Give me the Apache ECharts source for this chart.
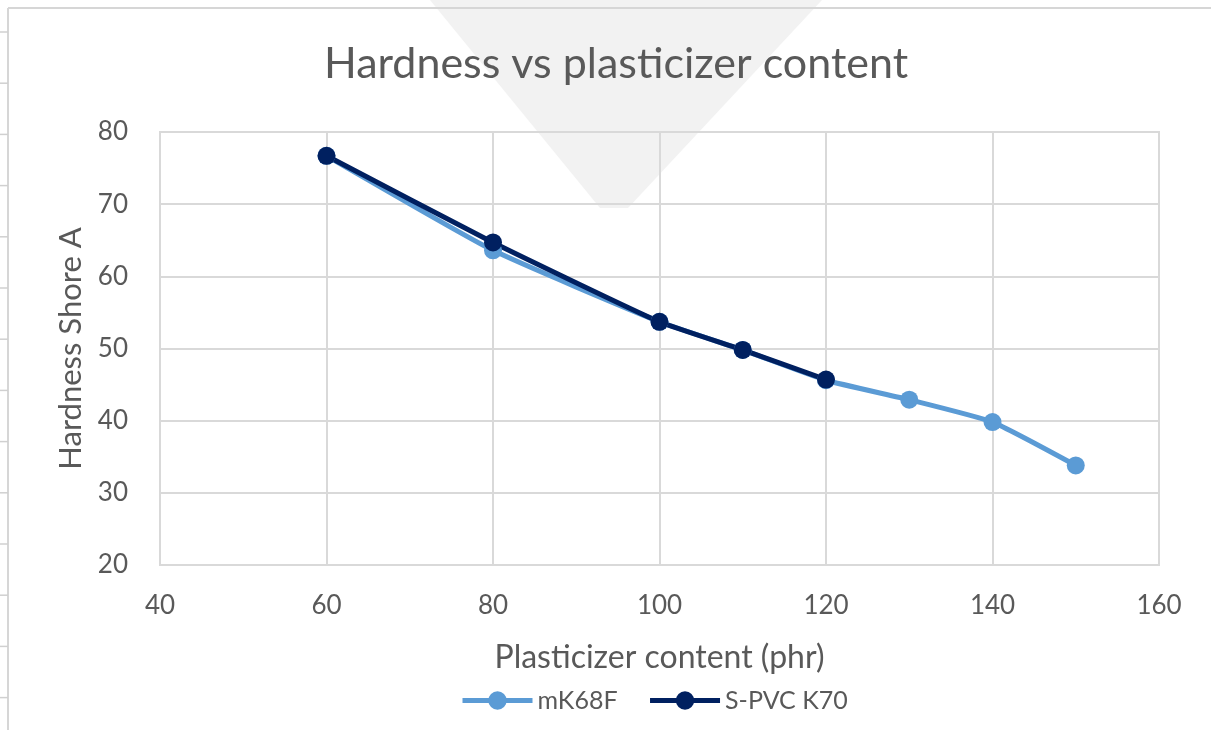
<!DOCTYPE html>
<html>
<head>
<meta charset="utf-8">
<script src="https://cdn.jsdelivr.net/npm/echarts@6/dist/echarts.min.js"></script>
<style>
  html, body { margin: 0; padding: 0; background: #fff; }
  #chart { width: 1211px; height: 730px; }
</style>
</head>
<body>
<div id="chart"></div>
<script>
// plasticizer content (phr)
const phrMK68F = [60, 80, 100, 110, 120, 130, 140, 150];
const hardMK68F = [76.7, 63.6, 53.7, 49.8, 45.6, 42.9, 39.8, 33.8];
const phrK70 = [60, 80, 100, 110, 120];
const hardK70 = [76.7, 64.7, 53.7, 49.8, 45.7];

const textColor = '#595959';
const gridColor = '#d9d9d9';
const fontFamily = 'Lato, "Open Sans", sans-serif';

const chartDom = document.getElementById('chart');
const myChart = echarts.init(chartDom);

// spreadsheet edge marks on the left
const edgeTicks = [];
for (let y = 32; y < 730; y += 51.2) {
  edgeTicks.push({
    type: 'line',
    shape: { x1: 0, y1: y, x2: 8, y2: y },
    style: { stroke: '#d0d0d0', lineWidth: 1.5 },
    silent: true
  });
}

const option = {
  backgroundColor: '#fff',
  animation: false,
  color: ['#5b9bd5', '#002060'],
  textStyle: { fontFamily: fontFamily },
  graphic: [
    {
      type: 'polygon',
      z: -10,
      shape: { points: [[430, 0], [822, 0], [628, 208], [600, 208]] },
      style: { fill: '#f2f2f2' },
      silent: true
    },
    {
      type: 'line',
      shape: { x1: 8, y1: 8, x2: 1211, y2: 8 },
      style: { stroke: '#d6d6d6', lineWidth: 2 },
      silent: true
    },
    {
      type: 'line',
      shape: { x1: 8, y1: 8, x2: 8, y2: 730 },
      style: { stroke: '#d6d6d6', lineWidth: 2 },
      silent: true
    }
  ].concat(edgeTicks),
  title: {
    text: 'Hardness vs plasticizer content',
    left: 611,
    top: 38,
    textAlign: 'center',
    textStyle: {
      color: textColor,
      fontSize: 43,
      fontWeight: 'normal',
      fontFamily: fontFamily
    }
  },
  legend: {
    bottom: 12,
    left: 455,
    itemWidth: 70,
    itemHeight: 23,
    itemGap: 30,
    lineStyle: { width: 5 },
    textStyle: { color: textColor, fontSize: 25, fontFamily: fontFamily },
    data: ['mK68F', 'S-PVC K70']
  },
  grid: {
    left: 160,
    right: 52,
    top: 132,
    bottom: 165,
    show: true,
    borderColor: gridColor,
    borderWidth: 2
  },
  xAxis: {
    type: 'value',
    min: 40,
    max: 160,
    interval: 20,
    name: 'Plasticizer content (phr)',
    nameLocation: 'middle',
    nameGap: 77,
    nameTextStyle: { color: textColor, fontSize: 32, fontFamily: fontFamily },
    axisLine: { show: false },
    axisTick: { show: false },
    axisLabel: { color: textColor, fontSize: 26, margin: 28, fontFamily: fontFamily },
    splitLine: { lineStyle: { color: gridColor, width: 2 } }
  },
  yAxis: {
    type: 'value',
    min: 20,
    max: 80,
    interval: 10,
    name: 'Hardness Shore A',
    nameLocation: 'middle',
    nameGap: 72,
    nameTextStyle: { color: textColor, fontSize: 31, fontFamily: fontFamily },
    axisLine: { show: false },
    axisTick: { show: false },
    axisLabel: { color: textColor, fontSize: 26, margin: 32, fontFamily: fontFamily },
    splitLine: { lineStyle: { color: gridColor, width: 2 } }
  },
  series: [
    {
      name: 'mK68F',
      type: 'line',
      smooth: 0.15,
      symbol: 'circle',
      symbolSize: 18,
      lineStyle: { width: 5 },
      data: phrMK68F.map((x, i) => [x, hardMK68F[i]])
    },
    {
      name: 'S-PVC K70',
      type: 'line',
      smooth: 0.15,
      symbol: 'circle',
      symbolSize: 18,
      lineStyle: { width: 5 },
      data: phrK70.map((x, i) => [x, hardK70[i]])
    }
  ]
};

myChart.setOption(option);
</script>
</body>
</html>
